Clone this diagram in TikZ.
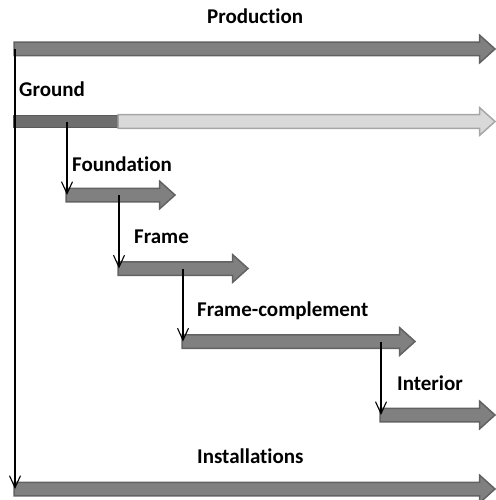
\documentclass[tikz,border=0pt]{standalone}
\usepackage{fontspec}
\setmainfont[Ligatures=NoCommon]{Carlito}
\usetikzlibrary{shapes.arrows,arrows.meta,calc}
\definecolor{barfill}{RGB}{128,128,128}
\definecolor{baredge}{RGB}{98,98,98}
\definecolor{darkfill}{RGB}{110,110,110}
\definecolor{darkedge}{RGB}{90,90,90}
\definecolor{lightfill}{RGB}{217,217,217}
\definecolor{lightedge}{RGB}{166,166,166}
\tikzset{
  bar/.style={single arrow, shape border rotate=0, single arrow head extend=7pt,
    single arrow tip angle=84,
    inner xsep=0pt, inner ysep=6pt, outer sep=0pt, anchor=tail,
    draw=baredge, fill=barfill, line width=1.5pt},
  lightbar/.style={bar, draw=lightedge, fill=lightfill},
  darkblock/.style={rectangle, inner sep=0pt, outer sep=0pt, anchor=west,
    minimum height=12pt, draw=darkedge, fill=darkfill, line width=1.5pt},
  lbl/.style={anchor=base west, inner sep=0pt, font=\bfseries\fontsize{21}{25}\selectfont},
  conn/.style={draw=black, line width=1.1pt, -{Straight Barb[length=12pt,width=11pt]}}
}
\begin{document}
\begin{tikzpicture}[x=1pt,y=-1pt]
  \useasboundingbox (0,0) rectangle (495,500);

  % phase bars
  \node[bar, minimum height=481pt] (prod) at (14,49) {};
  \node[darkblock, minimum width=104pt] (gnd) at (14,121.5) {};
  \node[lightbar, minimum height=377pt] (gndrest) at (118,121.5) {};
  \node[bar, minimum height=109pt] (found) at (66,195) {};
  \node[bar, minimum height=130pt] (frame) at (118,268.5) {};
  \node[bar, minimum height=233pt] (fc) at (182,341.5) {};
  \node[bar, minimum height=115pt] (int) at (380,415) {};
  \node[bar, minimum height=481pt] (inst) at (14,489) {};

  % labels
  \node[lbl] (tprod) at (207,24) {Production};
  \node[lbl] (tgnd) at (19,97) {Ground};
  \node[lbl] (tfound) at (72,171) {Foundation};
  \node[lbl] (tframe) at (134,243) {Frame};
  \node[lbl] (tfc) at (197,316) {Frame-complement};
  \node[lbl] (tint) at (397,390) {Interior};
  \node[lbl] (tinst) at (197,463) {Installations};

  % dependencies
  \draw[conn] ($(prod.tail)+(1,0)$) -- ($(inst.tail)+(1,0)$);
  \draw[conn] ($(found.tail |- gnd.center)+(1,0)$) -- ($(found.tail)+(1,0)$);
  \draw[conn] ($(frame.tail |- found.center)+(1,0)$) -- ($(frame.tail)+(1,0)$);
  \draw[conn] ($(fc.tail |- frame.center)+(1,0)$) -- ($(fc.tail)+(1,0)$);
  \draw[conn] ($(int.tail |- fc.center)+(1,0)$) -- ($(int.tail)+(1,0)$);
\end{tikzpicture}
\end{document}
